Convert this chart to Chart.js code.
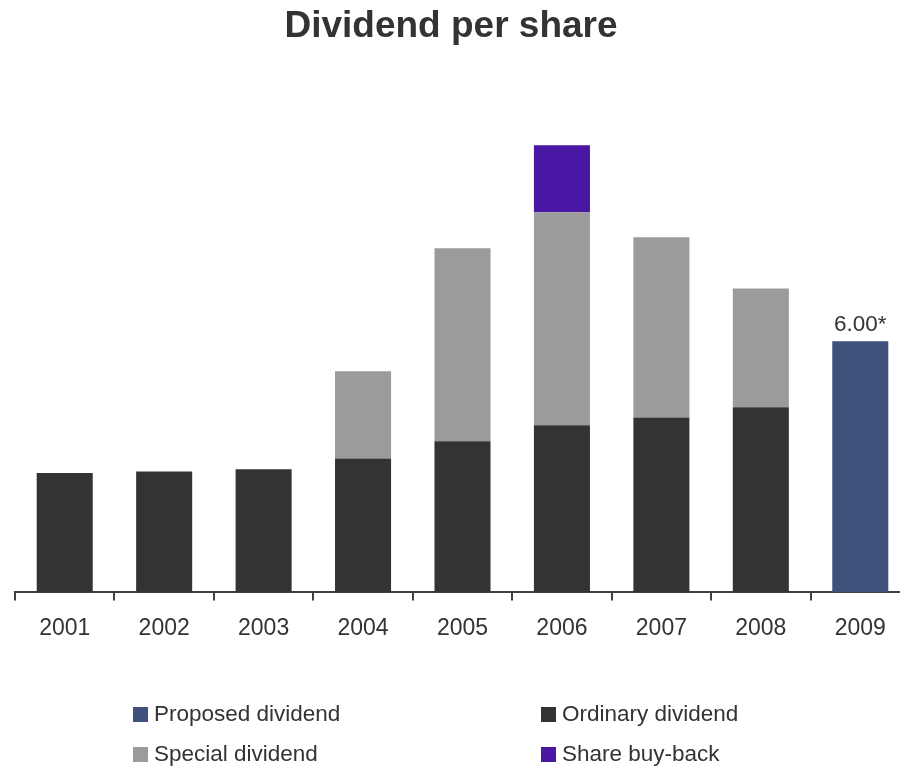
<!DOCTYPE html>
<html><head><meta charset="utf-8">
<script src="https://cdn.jsdelivr.net/npm/chart.js@4"></script>
<style>
html,body{margin:0;padding:0;overflow:hidden;background:#fff;width:900px;height:768px;}
#wrap{position:absolute;left:0;top:0;width:916px;height:768px;}
#title{position:absolute;left:0;top:2.5px;width:902px;text-align:center;font-family:"Liberation Sans",Arial,sans-serif;font-weight:bold;font-size:37px;line-height:44px;color:#333;}
#legend{position:absolute;left:0;top:0;width:900px;height:768px;font-family:"Liberation Sans",Arial,sans-serif;font-size:22.5px;line-height:26px;color:#333;pointer-events:none;}
.sw{position:absolute;width:15px;height:15px;}
.tx{position:absolute;white-space:nowrap;}
</style></head>
<body>
<div id="wrap"><canvas id="c"></canvas></div>
<div id="title"></div>
<div id="legend"></div>
<script>
const chartTitle = 'Dividend per share';
const categories = ['2001','2002','2003','2004','2005','2006','2007','2008','2009'];
const ordinary = [2.85, 2.89, 2.94, 3.20, 3.61, 3.99, 4.18, 4.42, null];
const special  = [null, null, null, 2.08, 4.61, 5.09, 4.30, 2.84, null];
const buyback  = [null, null, null, null, null, 1.60, null, null, null];
const proposed = [null, null, null, null, null, null, null, null, 6.00];
const proposedLabel = '6.00*';
const seriesNames = ['Proposed dividend','Ordinary dividend','Special dividend','Share buy-back'];
const colors = {proposed:'#3f527c', ordinary:'#333333', special:'#9b9b9b', buyback:'#4a17a4'};

const FONT = '"Liberation Sans", Arial, sans-serif';
const common = {stack:'s', barPercentage:0.5635, categoryPercentage:1, borderWidth:0};

document.getElementById('title').textContent = chartTitle;

const labelPlugin = {
  id:'valueLabel',
  afterDatasetsDraw(chart){
    const ctx = chart.ctx;
    const meta = chart.getDatasetMeta(3);
    meta.data.forEach((bar,i)=>{
      if (proposed[i]==null) return;
      ctx.save();
      ctx.font = '22.5px ' + FONT;
      ctx.fillStyle = '#333';
      ctx.textAlign = 'center';
      ctx.textBaseline = 'alphabetic';
      ctx.fillText(proposedLabel, bar.x, bar.y - 10);
      ctx.restore();
    });
  }
};

const chart = new Chart(document.getElementById('c'), {
  type:'bar',
  data:{
    labels: categories,
    datasets:[
      {label:seriesNames[1], data:ordinary, backgroundColor:colors.ordinary, ...common},
      {label:seriesNames[2], data:special, backgroundColor:colors.special, ...common},
      {label:seriesNames[3], data:buyback, backgroundColor:colors.buyback, ...common},
      {label:seriesNames[0], data:proposed, backgroundColor:colors.proposed, ...common}
    ]
  },
  options:{
    responsive:true, maintainAspectRatio:false, animation:false,
    layout:{padding:{left:15, right:6, top:90, bottom:111}},
    plugins:{
      legend:{display:false},
      tooltip:{enabled:false},
      title:{display:false}
    },
    scales:{
      x:{stacked:true,
        grid:{display:true, drawOnChartArea:false, drawTicks:true, tickLength:8, color:'#404040', lineWidth:2, offset:true},
        border:{display:true, color:'#404040', width:2},
        ticks:{color:'#333', font:{family:FONT, size:23}, padding:14.5}
      },
      y:{stacked:true, display:false, min:0, max:12}
    }
  },
  plugins:[labelPlugin]
});

// HTML legend
const legendItems = [
  {name:seriesNames[0], color:colors.proposed, x:133, y:707},
  {name:seriesNames[1], color:colors.ordinary, x:541, y:707},
  {name:seriesNames[2], color:colors.special, x:133, y:747},
  {name:seriesNames[3], color:colors.buyback, x:541, y:747}
];
const lg = document.getElementById('legend');
legendItems.forEach(it=>{
  const s = document.createElement('div'); s.className='sw';
  s.style.left=it.x+'px'; s.style.top=it.y+'px'; s.style.background=it.color;
  const t = document.createElement('div'); t.className='tx'; t.textContent=it.name;
  t.style.left=(it.x+21)+'px'; t.style.top=(it.y-6)+'px';
  lg.appendChild(s); lg.appendChild(t);
});
</script>
</body></html>
